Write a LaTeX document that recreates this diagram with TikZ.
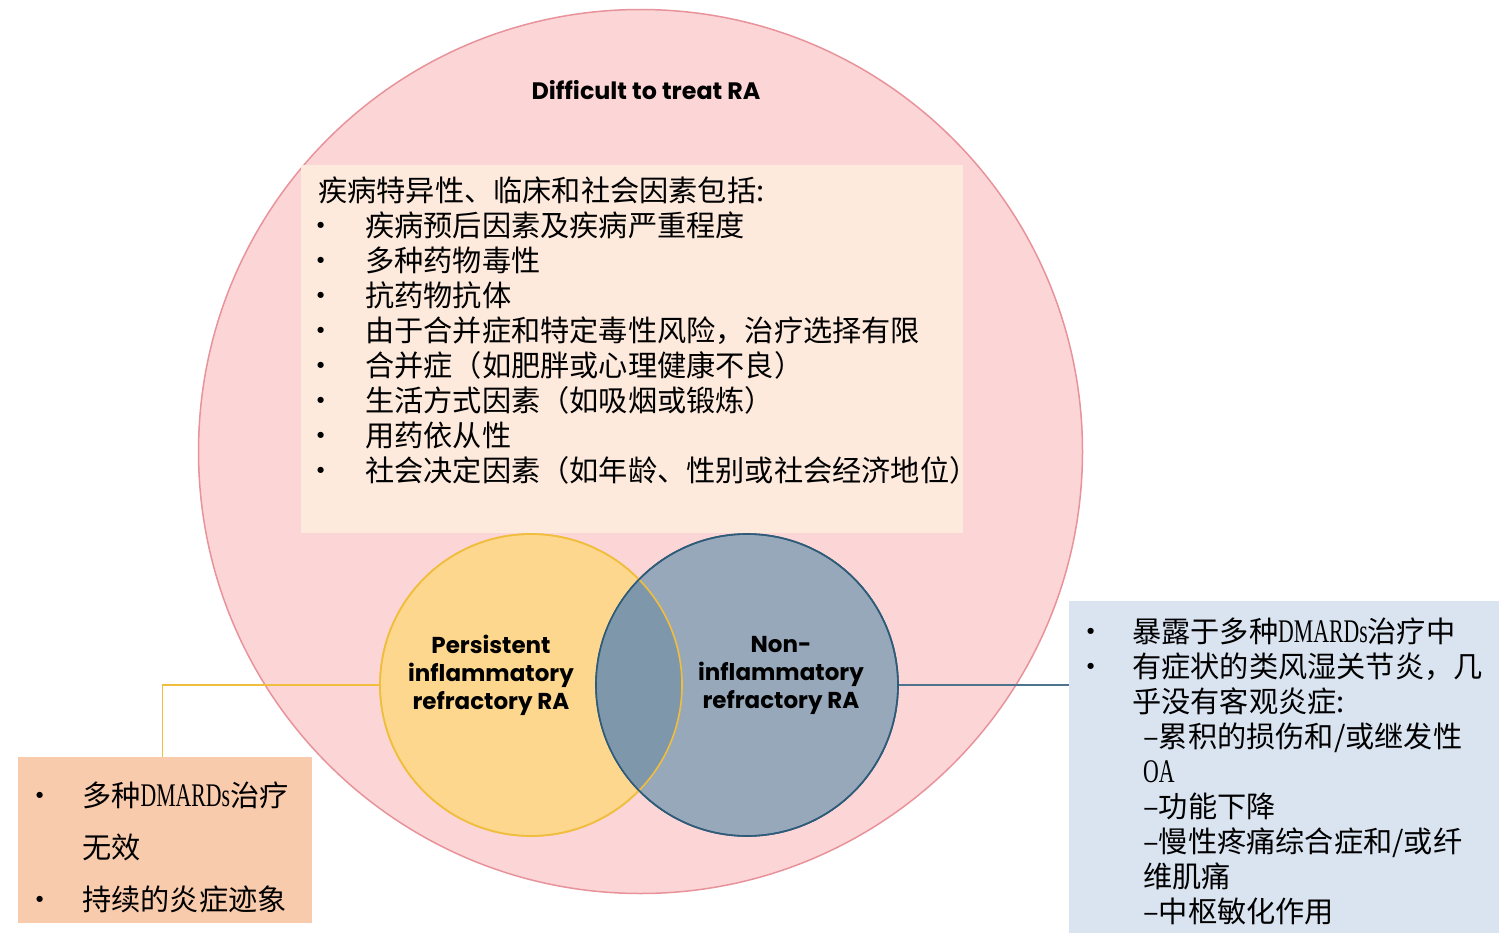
\documentclass[tikz,border=0pt]{standalone}
\usepackage{fontspec}
\newfontfamily\cjk{Noto Sans CJK SC}
\newfontfamily\latn[FakeStretch=0.66]{Liberation Serif}
\newfontfamily\labelfont{Poppins}
\usepackage{tikz}
\usetikzlibrary{positioning}
\definecolor{dttfill}{RGB}{252,214,215}
\definecolor{dttline}{RGB}{232,146,154}
\definecolor{factfill}{RGB}{253,234,221}
\definecolor{pirfill}{RGB}{253,215,142}
\definecolor{pirline}{RGB}{240,190,60}
\definecolor{nirfill}{RGB}{151,168,186}
\definecolor{bothfill}{RGB}{127,151,171}
\definecolor{nirline}{RGB}{46,92,120}
\definecolor{pirboxfill}{RGB}{248,203,173}
\definecolor{nirboxfill}{RGB}{218,227,240}
\newcommand{\latword}[1]{{\latn\fontsize{33}{35}\selectfont #1}}
\tikzset{
  dttcircle/.style={circle, draw=dttline, fill=dttfill, line width=1.5pt, minimum size=884pt, inner sep=0pt},
  pircircle/.style={circle, draw=pirline, fill=pirfill, line width=1.6pt, minimum size=302pt, inner sep=0pt},
  nircircle/.style={circle, draw=nirline, fill=nirfill, line width=1.6pt, minimum size=302pt, inner sep=0pt},
  listbox/.style={rectangle, inner sep=0pt, anchor=north west},
  cjktext/.style={anchor=base west, inner sep=0pt, font=\cjk\fontsize{29.2}{35}\selectfont},
  circlelabel/.style={align=center, inner sep=0pt, font=\labelfont\bfseries\fontsize{23}{28}\selectfont},
  pirconn/.style={draw=pirline, line width=1.4pt},
  nirconn/.style={draw=nirline!85, line width=1.4pt}
}

\begin{document}
\begin{tikzpicture}[x=1pt,y=-1pt]
  \useasboundingbox (0,0) rectangle (1502,942);
  % outer circle
  \node[dttcircle] (dtt) at (640.5,451.5) {};
  \node[font=\labelfont\bfseries\fontsize{23.8}{28}\selectfont] (title) at (646,90) {Difficult to treat RA};
  % factors
  \node[listbox, fill=factfill, minimum width=662pt, minimum height=368pt] (factors) at (301,165) {};
  \node[cjktext] (fhead) at (318,201) {疾病特异性、临床和社会因素包括:};
  \foreach \txt [count=\i] in {疾病预后因素及疾病严重程度, 多种药物毒性, 抗药物抗体,
      由于合并症和特定毒性风险，治疗选择有限, 合并症（如肥胖或心理健康不良）,
      生活方式因素（如吸烟或锻炼）, 用药依从性, 社会决定因素（如年龄、性别或社会经济地位）} {
    \node[cjktext] (fbul\i) at (306,201+35*\i) {•};
    \node[cjktext] (fitem\i) at (365,201+35*\i) {\txt};
  }
  % venn
  \node[pircircle] (pir) at (531,685) {};
  \node[nircircle] (nir) at (747,685) {};
  \begin{scope}
    \clip (pir.center) circle[radius=151];
    \fill[bothfill] (nir.center) circle[radius=151];
  \end{scope}
  \draw[pirline, line width=1.6pt] (pir.center) circle[radius=151];
  \draw[nirline, line width=1.6pt] (nir.center) circle[radius=151];
  \node[circlelabel] (pirlabel) at (491,675) {Persistent\\inflammatory\\refractory RA};
  \node[circlelabel] (nirlabel) at (781,675) {Non-\\inflammatory\\refractory RA};
  % side boxes
  \node[listbox, fill=pirboxfill, minimum width=294pt, minimum height=166pt] (pirbox) at (18,757) {};
  \node[cjktext] (pbul1) at (25,806) {•};
  \node[cjktext] (pitem1) at (82,806) {多种\latword{DMARDs}治疗};
  \node[cjktext] (pitem2) at (82,858) {无效};
  \node[cjktext] (pbul2) at (25,910) {•};
  \node[cjktext] (pitem3) at (82,910) {持续的炎症迹象};
  \node[listbox, fill=nirboxfill, minimum width=430pt, minimum height=332pt] (nirbox) at (1069,601) {};
  \node[cjktext] (nbul1) at (1076,642) {•};
  \node[cjktext] (nbul2) at (1076,677) {•};
  \foreach \xx/\txt [count=\i] in {1132/{暴露于多种\latword{DMARDs}治疗中}, 1132/{有症状的类风湿关节炎，几},
      1132/{乎没有客观炎症:}, 1143/{–累积的损伤和/或继发性}, 1143/{\latword{OA}}, 1143/{–功能下降},
      1143/{–慢性疼痛综合症和/或纤}, 1143/{维肌痛}, 1143/{–中枢敏化作用}} {
    \node[cjktext] (nitem\i) at (\xx,607+35*\i) {\txt};
  }
  % connectors
  \draw[pirconn] (pir.west) -| ([xshift=-3pt]pirbox.north);
  \draw[nirconn] (nir.east) -- (nirbox.west |- nir.east);
\end{tikzpicture}
\end{document}
